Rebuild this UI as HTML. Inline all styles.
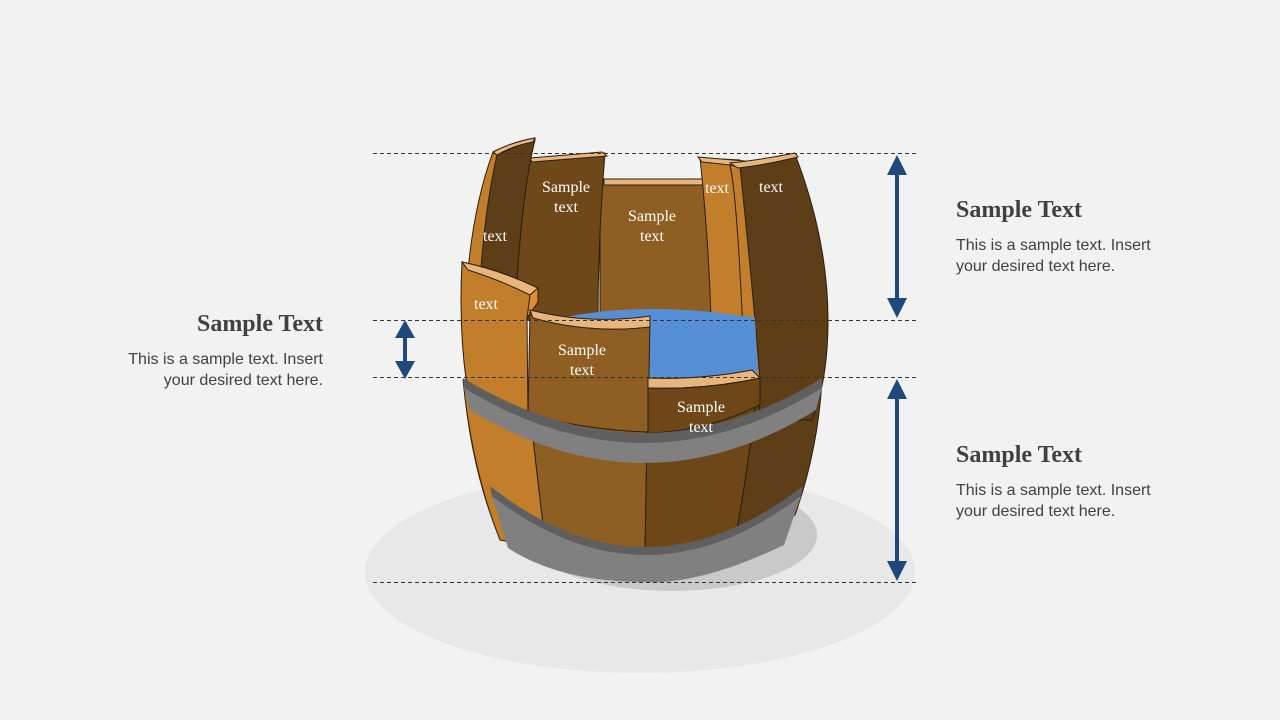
<!DOCTYPE html>
<html><head><meta charset="utf-8"><style>
html,body{margin:0;padding:0;background:#f2f2f2;}
svg{display:block;}
.h{font-family:"Liberation Serif",serif;font-weight:bold;font-size:24px;fill:#404040;}
.b{font-family:"Liberation Sans",sans-serif;font-size:16px;fill:#404040;}
.w{font-family:"Liberation Serif",serif;font-size:16px;fill:#fff;text-anchor:middle;}
</style></head><body>
<svg width="1280" height="720" viewBox="0 0 1280 720" xmlns="http://www.w3.org/2000/svg">
<rect width="1280" height="720" fill="#f2f2f2"/>
<ellipse cx="640" cy="572" rx="275" ry="101" fill="#e8e8e8"/>
<ellipse cx="672" cy="535" rx="145" ry="56" fill="#c9c9c9"/>

<g stroke="#2a1e0e" stroke-width="1">
<!-- lower barrel body -->
<path d="M463,380 Q470,470 500,540 Q645,575 795,515 Q818,450 822,380 Z" fill="#6e4618" stroke="none"/>
<path d="M463,380 Q472,470 500,540 L546,548 Q535,460 527,380 Z" fill="#c27e2a"/>
<path d="M527,380 Q535,460 546,548 Q600,556 645,552 L648,380 Z" fill="#8f5e22"/>
<path d="M648,380 L645,552 Q700,550 735,540 Q750,460 758,380 Z" fill="#6e4618"/>
<path d="M758,380 Q750,460 735,540 Q770,530 795,515 Q818,450 822,380 Z" fill="#5e3e17"/>

<!-- back staves -->
<path d="M600,180 L710,180 L712,320 L600,320 Z" fill="#8f5e22"/>
<path d="M604,179 L707,179 L709,185 L604,185 Z" fill="#e8b57c"/>
<path d="M530,160 L605,153 Q598,240 598,320 L515,320 Q515,230 530,160 Z" fill="#6e4818"/>
<path d="M530,158 L602,152 L607,156 L532,162 Z" fill="#e8b57c"/>
<path d="M493,152 Q512,142 535,138 Q520,200 515,320 L465,320 Q468,220 493,152 Z" fill="#c27e2a"/>
<path d="M497,155 Q515,146 535,140 Q520,200 515,320 L478,320 Q482,220 497,155 Z" fill="#5e3e17"/>
<path d="M493,152 Q512,142 535,138 L533,142 Q512,146 497,155 Z" fill="#e8b57c"/>
<path d="M700,158 L740,160 Q752,270 758,380 L712,385 Q712,270 700,158 Z" fill="#c27e2a"/>
<path d="M698,157 L745,161 L740,166 L702,162 Z" fill="#e8b57c"/>
<path d="M730,165 Q760,162 795,154 Q828,240 828,320 Q828,380 812,420 L760,420 Q752,280 730,165 Z" fill="#5e3e17"/>
<path d="M730,165 Q738,200 745,380 L760,380 Q752,280 740,167 Z" fill="#c27e2a"/>
<path d="M730,163 Q760,160 795,153 L798,157 Q765,165 738,168 Z" fill="#e8b57c"/>

<!-- water -->
<path d="M560,318 Q650,300 755,318 L758,372 Q700,382 648,378 L648,320 Z" fill="#568fd6" stroke="none"/>

<!-- front staves -->
<path d="M462,262 Q500,270 538,288 L538,300 L527,318 L528,414 L470,404 Q458,340 462,262 Z" fill="#c27e2a"/>
<path d="M462,262 Q500,270 538,288 L530,295 Q500,280 468,270 Z" fill="#e8b57c"/>
<path d="M538,288 L530,295 L527,318 L538,302 Z" fill="#e68a2e"/>
<path d="M530,312 Q590,328 650,318 L648,432 Q585,430 528,414 Z" fill="#8f5e22"/>
<path d="M530,310 Q590,325 650,316 L650,327 Q590,334 533,318 Z" fill="#e8b57c"/>
<path d="M648,378 Q700,380 752,370 L760,378 Q705,390 648,388 Z" fill="#e8b57c"/>
<path d="M648,388 Q705,390 760,378 L760,405 Q705,432 648,433 Z" fill="#6e4618"/>
</g>

<!-- upper hoop -->
<path d="M463,378 Q645,488 822,378 L822,390 Q645,498 464,390 Z" fill="#5f5f5f"/>
<path d="M464,388 Q645,498 822,388 L816,410 Q645,516 470,410 Z" fill="#808080"/>
<!-- lower hoop -->
<path d="M490,486 Q645,608 803,486 L801,497 Q645,616 492,497 Z" fill="#5f5f5f"/>
<path d="M492,496 Q645,614 801,496 L784,545 Q700,585 645,582 Q560,582 508,548 Z" fill="#808080"/>

<!-- stave labels -->
<text class="w" x="495" y="241">text</text>
<text class="w" x="566" y="192">Sample</text><text class="w" x="566" y="212">text</text>
<text class="w" x="652" y="221">Sample</text><text class="w" x="652" y="241">text</text>
<text class="w" x="717" y="193">text</text>
<text class="w" x="771" y="192">text</text>
<text class="w" x="486" y="309">text</text>
<text class="w" x="582" y="355">Sample</text><text class="w" x="582" y="375">text</text>
<text class="w" x="701" y="412">Sample</text><text class="w" x="701" y="432">text</text>

<!-- dashed lines -->
<g stroke="#333" stroke-width="1" stroke-dasharray="4,3">
<line x1="373" y1="153.5" x2="916" y2="153.5"/>
<line x1="373" y1="320.5" x2="916" y2="320.5"/>
<line x1="373" y1="377.5" x2="916" y2="377.5"/>
<line x1="373" y1="582.5" x2="916" y2="582.5"/>
</g>

<!-- arrows -->
<g fill="#1f497d" stroke="none">
<rect x="895" y="170" width="4" height="132"/>
<polygon points="897,155 887,175 907,175"/><polygon points="897,318 887,298 907,298"/>
<rect x="895" y="396" width="4" height="168"/>
<polygon points="897,379 887,399 907,399"/><polygon points="897,581 887,561 907,561"/>
<rect x="403" y="334" width="4" height="30"/>
<polygon points="405,320 395,338 415,338"/><polygon points="405,379 395,361 415,361"/>
</g>

<!-- side texts -->
<text class="h" x="956" y="217">Sample Text</text>
<text class="b" x="956" y="250">This is a sample text. Insert</text>
<text class="b" x="956" y="271">your desired text here.</text>
<text class="h" x="956" y="462">Sample Text</text>
<text class="b" x="956" y="495">This is a sample text. Insert</text>
<text class="b" x="956" y="516">your desired text here.</text>
<text class="h" x="323" y="331" text-anchor="end">Sample Text</text>
<text class="b" x="323" y="364" text-anchor="end">This is a sample text. Insert</text>
<text class="b" x="323" y="385" text-anchor="end">your desired text here.</text>
</svg>
</body></html>
